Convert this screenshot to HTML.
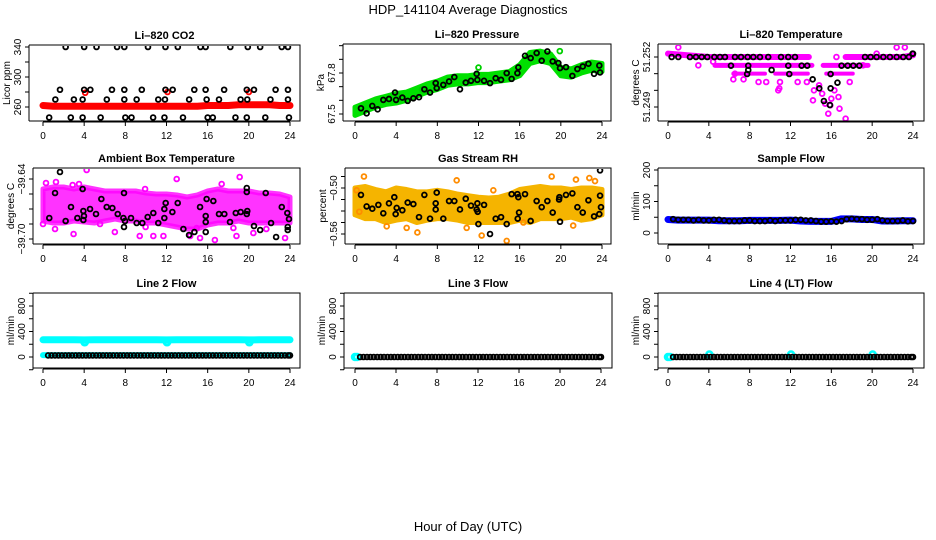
<!DOCTYPE html>
<html><head><meta charset="utf-8">
<style>
html,body{margin:0;padding:0;background:#fff;}
svg{display:block;font-family:"Liberation Sans",sans-serif;}
</style></head>
<body>
<svg id="chart" width="936" height="540" viewBox="0 0 936 540" xmlns="http://www.w3.org/2000/svg">
<text x="468" y="14" text-anchor="middle" font-size="13">HDP_141104  Average Diagnostics</text>
<text x="468" y="531" text-anchor="middle" font-size="13">Hour of Day (UTC)</text>
</svg>
<script>
// ---------- shared ----------
const hourTicks = [0,4,8,12,16,20,24];
const hours25 = [0,1,2,3,4,5,6,7,8,9,10,11,12,13,14,15,16,17,18,19,20,21,22,23,24];
const T48 = [0.5,1,1.5,2,2.5,3,3.5,4,4.5,5,5.5,6,6.5,7,7.5,8,8.5,9,9.5,10,10.5,11,11.5,12,12.5,13,13.5,14,14.5,15,15.5,16,16.5,17,17.5,18,18.5,19,19.5,20,20.5,21,21.5,22,22.5,23,23.5,24];
const T72 = [0.5,0.83,1.17,1.5,1.83,2.17,2.5,2.83,3.17,3.5,3.83,4.17,4.5,4.83,5.17,5.5,5.83,6.17,6.5,6.83,7.17,7.5,7.83,8.17,8.5,8.83,9.17,9.5,9.83,10.17,10.5,10.83,11.17,11.5,11.83,12.17,12.5,12.83,13.17,13.5,13.83,14.17,14.5,14.83,15.17,15.5,15.83,16.17,16.5,16.83,17.17,17.5,17.83,18.17,18.5,18.83,19.17,19.5,19.83,20.17,20.5,20.83,21.17,21.5,21.83,22.17,22.5,22.83,23.17,23.5,23.83,24];

// ---------- CO2 ----------
const co2Ticks = [260,280,300,320,340];
const co2Labels = ["260","","300","","340"];
const co2BlackH = [2.2,4.0,5.2,7.2,7.9,10.2,11.9,13.1,15.3,15.8,18.2,19.9,21.1,23.2,23.8,
 1.65,4.0,4.6,6.7,7.9,9.6,11.9,12.6,14.7,15.8,17.6,19.8,20.5,22.6,23.8,
 1.2,3.0,3.85,6.2,7.9,9.1,11.2,11.85,14.2,15.9,17.1,19.2,19.85,22.1,23.8,
 0.6,2.7,3.85,5.6,8.0,8.6,10.7,11.8,13.6,16.0,16.5,18.7,19.8,21.6,23.9];
const co2BlackV = [340,340,340,340,340,340,340,340,340,340,340,340,340,340,340,
 283,283,283,283,283,283,283,283,283,283,283,283,283,283,283,
 270,270,270,270,270,270,270,270,270,270,270,270,270,270,270,
 246,246,246,246,246,246,246,246,246,246,246,246,246,246,246];
const co2Red = [262,261,261,261,261,261,261,261,261,261,261,261,261,261,261,261,262,262,262,263,263,263,263,262,262];
const co2RedOutH = [4.1,12.1,20.0];
const co2RedOutV = [279,280,280];

// ---------- Pressure ----------
const presTicks = [67.5,67.6,67.7,67.8,67.9,68.0];
const presLabels = ["67.5","","","67.8","",""];
const presUpper = [67.55,67.58,67.61,67.63,67.65,67.66,67.69,67.72,67.74,67.77,67.78,67.78,67.79,67.79,67.80,67.81,67.86,67.95,67.96,67.94,67.84,67.83,67.86,67.88,67.87];
const presLower = [67.49,67.52,67.55,67.57,67.58,67.60,67.63,67.66,67.68,67.71,67.72,67.72,67.73,67.73,67.74,67.75,67.78,67.87,67.89,67.87,67.78,67.77,67.80,67.82,67.81];
const presOutH = [4.1,6.5,12.0,19.9];
const presOutV = [67.64,67.68,67.84,67.96];
const presBlackH = [0.58,1.13,1.68,2.2,2.75,3.3,3.89,3.99,4.6,5.12,5.67,6.22,6.74,7.29,7.84,7.94,8.58,9.14,9.65,10.2,10.76,11.27,11.82,11.89,12.54,13.12,13.67,14.19,14.74,15.22,15.78,15.87,16.52,17.07,17.65,18.14,18.69,19.21,19.76,19.92,20.5,21.12,21.61,22.13,22.68,23.23,23.74,23.81];
const presBlackV = [67.542,67.505,67.559,67.534,67.603,67.610,67.657,67.603,67.620,67.596,67.615,67.623,67.681,67.657,67.726,67.689,67.713,67.738,67.770,67.681,67.730,67.743,67.794,67.750,67.743,67.726,67.762,67.750,67.799,67.757,67.799,67.841,67.926,67.909,67.946,67.890,67.958,67.885,67.873,67.836,67.843,67.779,67.829,67.848,67.868,67.794,67.855,67.804];

// ---------- Li-820 Temperature ----------
const tempTicks = [51.249,51.250,51.251,51.252];
const tempLabels = ["51.249","","","51.252"];
const tempRow1H = [0,2,4,6,8,10,12,13.8,null,17.4,19,21,23,24];
const tempRow1V = [51.2522,51.2521,51.252,51.252,51.252,51.252,51.252,51.252,null,51.252,51.252,51.252,51.252,51.2521];
const tempRow2H = [4.6,7,9,11,14.1,null,15.2,17,19.6];
const tempRow2V = [51.2515,51.2515,51.2515,51.2515,51.2515,null,51.2515,51.2515,51.2515];
const tempRow3H = [6.4,9.5,null,10.5,13.7,null,15.5,18.1];
const tempRow3V = [51.251,51.251,null,51.251,51.251,null,51.251,51.251];
const tempMagH = [1.01,2.97,4.42,6.4,6.56,7.4,8.87,9.62,10.8,10.9,10.97,12.7,13.6,14.2,14.3,15.4,15.7,16.3,16.7,16.8,17.4,17.8,19.1,20.44,22.4,23.2,16.5,14.8,15.1,16.0,15.9];
const tempMagV = [51.25258,51.2515,51.25172,51.25066,51.251,51.25066,51.2505,51.2505,51.25,51.25012,51.2505,51.2505,51.2505,51.2494,51.25,51.2492,51.2486,51.25,51.2496,51.2489,51.2483,51.2505,51.2515,51.2522,51.25258,51.25258,51.252,51.2503,51.2498,51.2495,51.2491];
const tempBlackH = [0.36,1.01,2.15,2.74,3.3,3.85,4.54,5.09,5.58,6.56,7.15,7.8,8.36,9.01,9.82,11.07,11.78,12.44,19.3,19.85,20.44,21.09,21.74,22.4,23.04,23.6,24.0,
 6.17,7.86,11.78,13.09,13.64,17.0,17.6,18.15,18.74,
 7.86,7.75,10.15,11.88,14.17,14.82,15.93,15.93,15.27,15.86,16.6,23.96];
const tempBlackV = [51.252,51.252,51.252,51.252,51.252,51.252,51.252,51.252,51.252,51.252,51.252,51.252,51.252,51.252,51.252,51.252,51.252,51.252,51.252,51.252,51.252,51.252,51.252,51.252,51.252,51.252,51.2522,
 51.25148,51.25148,51.25148,51.25148,51.25148,51.25148,51.25148,51.25148,51.25148,
 51.25122,51.25098,51.25122,51.25098,51.25066,51.25012,51.25098,51.25012,51.24936,51.24912,51.25046,51.2522];

// ---------- Ambient Box Temperature ----------
const ambTicks = [-39.70,-39.685,-39.67,-39.655,-39.64];
const ambLabels = ["\u221239.70","","","","\u221239.64"];
const ambUpper = [-39.650,-39.648,-39.648,-39.650,-39.648,-39.650,-39.652,-39.652,-39.652,-39.652,-39.654,-39.655,-39.655,-39.656,-39.658,-39.656,-39.652,-39.650,-39.652,-39.652,-39.652,-39.654,-39.654,-39.655,-39.658];
const ambLower = [-39.682,-39.684,-39.684,-39.682,-39.683,-39.684,-39.682,-39.680,-39.682,-39.682,-39.684,-39.684,-39.686,-39.688,-39.690,-39.690,-39.686,-39.684,-39.684,-39.682,-39.684,-39.684,-39.684,-39.684,-39.684];
const ambMagH = [4.24,0.29,1.26,2.88,3.5,19.11,17.36,12.99,9.92,1.17,2.97,6.98,9.4,10.72,11.7,14.3,15.26,16.7,18.8,20.44,23.52,21.7,5.54,0,18.5,14.93,9.97];
const ambMagV = [-39.631,-39.644,-39.643,-39.646,-39.645,-39.638,-39.645,-39.640,-39.650,-39.690,-39.695,-39.693,-39.697,-39.697,-39.697,-39.697,-39.699,-39.701,-39.697,-39.694,-39.699,-39.690,-39.685,-39.685,-39.689,-39.689,-39.688];
const ambBlackH = [0.61,1.17,1.65,2.2,2.72,3.34,3.85,3.92,3.98,3.92,4.57,5.15,5.67,6.19,6.74,7.26,7.81,7.87,7.97,7.87,8.55,9.1,9.65,10.17,10.72,11.2,11.79,11.79,11.92,12.57,13.09,13.64,14.19,14.71,15.26,15.81,15.81,15.81,15.9,16.55,17.1,17.62,18.17,18.73,19.21,19.8,19.8,19.8,19.85,20.5,21.1,21.64,22.16,22.65,23.2,23.74,23.9,23.78,23.78];
const ambBlackV = [-39.679,-39.654,-39.633,-39.682,-39.668,-39.679,-39.650,-39.672,-39.677,-39.681,-39.670,-39.675,-39.660,-39.668,-39.669,-39.675,-39.679,-39.654,-39.682,-39.688,-39.679,-39.684,-39.684,-39.678,-39.674,-39.684,-39.679,-39.670,-39.664,-39.673,-39.664,-39.690,-39.696,-39.693,-39.668,-39.677,-39.683,-39.693,-39.660,-39.662,-39.675,-39.675,-39.683,-39.674,-39.673,-39.675,-39.649,-39.653,-39.672,-39.687,-39.691,-39.654,-39.684,-39.698,-39.668,-39.674,-39.680,-39.688,-39.691];

// ---------- Gas Stream RH ----------
const rhTicks = [-0.56,-0.545,-0.53,-0.515,-0.50,-0.485];
const rhLabels = ["\u22120.56","","","","\u22120.50",""];
const rhUpper = [-0.500,-0.498,-0.502,-0.505,-0.500,-0.502,-0.505,-0.505,-0.503,-0.505,-0.508,-0.510,-0.512,-0.513,-0.512,-0.508,-0.502,-0.500,-0.498,-0.500,-0.500,-0.502,-0.500,-0.500,-0.502];
const rhLower = [-0.535,-0.540,-0.540,-0.545,-0.542,-0.540,-0.545,-0.542,-0.540,-0.540,-0.542,-0.545,-0.545,-0.545,-0.545,-0.545,-0.542,-0.545,-0.540,-0.540,-0.540,-0.538,-0.542,-0.540,-0.535];
const rhOutH = [0.87,9.88,19.11,21.47,22.77,23.32,3.08,5.02,6.06,10.85,12.31,14.74,13.44,16.36,21.2,0.16,0.42];
const rhOutV = [-0.485,-0.490,-0.485,-0.489,-0.487,-0.491,-0.550,-0.552,-0.558,-0.552,-0.562,-0.569,-0.503,-0.545,-0.549,-0.503,-0.531];
const rhBlackH = [0.58,1.13,1.68,2.27,2.75,3.3,3.82,3.95,4.05,4.6,5.12,5.67,6.22,6.74,7.29,7.84,7.84,7.94,8.58,9.14,9.65,10.2,10.76,11.27,11.82,11.89,11.92,11.99,12.54,13.12,13.67,14.19,14.74,15.22,15.78,15.87,15.81,15.94,16.52,17.07,17.65,18.14,18.69,19.21,19.83,19.86,19.92,20.5,21.12,21.61,22.13,22.68,23.23,23.74,23.81,23.81,23.9];
const rhBlackV = [-0.509,-0.524,-0.527,-0.522,-0.533,-0.520,-0.512,-0.534,-0.526,-0.529,-0.519,-0.521,-0.538,-0.509,-0.540,-0.520,-0.528,-0.506,-0.540,-0.517,-0.517,-0.528,-0.514,-0.523,-0.528,-0.520,-0.531,-0.547,-0.522,-0.560,-0.540,-0.538,-0.547,-0.508,-0.508,-0.512,-0.540,-0.532,-0.508,-0.543,-0.517,-0.525,-0.517,-0.532,-0.515,-0.512,-0.544,-0.509,-0.507,-0.525,-0.532,-0.516,-0.537,-0.534,-0.477,-0.510,-0.525];

// ---------- Sample Flow ----------
const sfTicks = [0,50,100,150,200];
const sfLabels = ["0","","100","","200"];
const sfBlue = [43,41,41,41,41,39,39,39,40,40,40,40,41,38,37,37,37,45,45,43,43,38,38,39,39];
const sfBlack = [44,42,42,42,40,42,40,40,42,42,40,38,38,38,40,40,38,38,38,40,38,40,40,40,42,42,40,40,38,36,36,37,36,38,44,45,44,44,42,42,44,40,38,38,38,40,37,38];

// ---------- Line flows ----------
const flowTicks = [-200,0,200,400,600,800,1000];
const flowLabels = ["","0","","400","","800",""];
const l2CyanHigh = [270,270,270,270,268,270,270,270,270,270,270,270,268,270,270,270,270,270,270,270,268,270,270,270,270];
const l2DipH = [4.05,12.05,20.05];
const l2DipV = [235,235,235];
const l2CyanLow = [30,30,30,30,30,30,30,30,30,30,30,30,30,30,30,30,30,30,30,30,30,30,30,30,30];
const l2Black = [25,25,25,25,25,25,25,25,25,25,25,25,25,25,25,25,25,25,25,25,25,25,25,25,25,25,25,25,25,25,25,25,25,25,25,25,25,25,25,25,25,25,25,25,25,25,25,25,25,25,25,25,25,25,25,25,25,25,25,25,25,25,25,25,25,25,25,25,25,25,25,25];
const l3CyanH = [0,0.2];
const l3CyanV = [0,0];
const l3Black = [0,0,0,0,0,0,0,0,0,0,0,0,0,0,0,0,0,0,0,0,0,0,0,0,0,0,0,0,0,0,0,0,0,0,0,0,0,0,0,0,0,0,0,0,0,0,0,0,0,0,0,0,0,0,0,0,0,0,0,0,0,0,0,0,0,0,0,0,0,0,0,0];
const l4CyanH = [0,0.2,4.05,12.05,20.05];
const l4CyanV = [0,0,40,40,40];
const l4Black = [0,0,0,0,0,0,0,0,0,0,0,0,0,0,0,0,0,0,0,0,0,0,0,0,0,0,0,0,0,0,0,0,0,0,0,0,0,0,0,0,0,0,0,0,0,0,0,0,0,0,0,0,0,0,0,0,0,0,0,0,0,0,0,0,0,0,0,0,0,0,0,0];

const NS = "http://www.w3.org/2000/svg";
const svg = document.getElementById('chart');
function mk(tag, attrs, parent){
  const e = document.createElementNS(NS, tag);
  for (const k in attrs) e.setAttribute(k, attrs[k]);
  (parent||svg).appendChild(e);
  return e;
}

function makePanel(c){
  const g = mk('g', {});
  
  
  const sx = h => c.x0 + h*(c.x24 - c.x0)/24;
  const sy = v => c.yp0 + (v - c.yv0)*(c.yp1 - c.yp0)/(c.yv1 - c.yv0);
  const cid = 'clip-' + c.name;
  const cp = mk('clipPath', {id: cid}, g);
  mk('rect', {x: c.left+1, y: c.top+1, width: c.right-c.left-2, height: c.bottom-c.top-1}, cp);
  const plot = mk('g', {'clip-path': 'url(#' + cid + ')'}, g);
  
  
  const box = mk('path', {d: `M${c.left},${c.top} H${c.right} V${c.bottom} H${c.left}`, fill: 'none', stroke: '#000', 'stroke-width': 1}, g);
  
  
  const yts = c.yTicks.map(sy);
  const yax = mk('line', {x1: c.left, x2: c.left, y1: Math.min(...yts, c.top), y2: Math.max(...yts.filter(y => y <= c.bottom + 4), c.bottom), stroke: '#000'}, g);
  
  
  c.yTicks.forEach((t, i) => {
    const y = sy(t);
    mk('line', {x1: c.left - 4, x2: c.left, y1: y, y2: y, stroke: '#000'}, g);
    if (c.yLabels[i]) {
      const tx = mk('text', {x: 0, y: 0, 'font-size': 10, 'text-anchor': 'middle', transform: `translate(${c.left - 8},${y}) rotate(-90)`}, g);
      
      
      tx.textContent = c.yLabels[i];
    }
  });
  const yl = mk('text', {x: 0, y: 0, 'font-size': 10, 'text-anchor': 'middle', transform: `translate(${c.left - 19},${(c.top + c.bottom)/2}) rotate(-90)`}, g);
  
  
  yl.textContent = c.ylab;
  const xax = mk('line', {x1: sx(0), x2: sx(24), y1: c.bottom + 1, y2: c.bottom + 1, stroke: '#000'}, g);
  
  
  hourTicks.forEach(h => {
    mk('line', {x1: sx(h), x2: sx(h), y1: c.bottom + 1, y2: c.bottom + 5, stroke: '#000'}, g);
    const tx = mk('text', {x: sx(h), y: c.bottom + 18, 'font-size': 10, 'text-anchor': 'middle'}, g);
    
    
    tx.textContent = String(h);
  });
  const ti = mk('text', {x: (c.left + c.right)/2, y: c.top - 6, 'font-size': 11, 'font-weight': 'bold', 'text-anchor': 'middle'}, g);
  
  
  ti.textContent = c.title;
  return {plot, sx, sy};
}

function points(p, H, V, color, name, r, sw){
  H.forEach((h, i) => {
    const el = mk('circle', {cx: p.sx(h), cy: p.sy(V[i]), r: r||2.4, fill: 'none', stroke: color, 'stroke-width': sw||1.8}, p.plot);
    
    
  });
}
function band(p, H, U, L, color, name, op){
  let d = 'M' + H.map((h, i) => p.sx(h) + ',' + p.sy(U[i])).join(' L');
  d += ' L' + H.slice().reverse().map((h, j) => { const i = H.length - 1 - j; return p.sx(h) + ',' + p.sy(L[i]); }).join(' L') + ' Z';
  const el = mk('path', {d, fill: color, 'fill-opacity': op||1, stroke: color, 'stroke-opacity': op||1, 'stroke-width': 5, 'stroke-linejoin': 'round'}, p.plot);
  
  
}
function thick(p, H, V, color, name, w){
  let d = '', pen = false;
  H.forEach((h, i) => {
    if (h === null || V[i] === null) { pen = false; return; }
    d += (pen ? ' L' : ' M') + p.sx(h) + ',' + p.sy(V[i]);
    pen = true;
  });
  const el = mk('path', {d, fill: 'none', stroke: color, 'stroke-width': w||6, 'stroke-linecap': 'round', 'stroke-linejoin': 'round'}, p.plot);
  
  
}

// Row 1
let p = makePanel({name: 'co2-panel', title: 'Li\u2013820 CO2', ylab: 'Licor ppm', left: 29, right: 300, top: 45, bottom: 121, x0: 43, x24: 290, yv0: 260, yp0: 107, yv1: 340, yp1: 47, yTicks: co2Ticks, yLabels: co2Labels});
thick(p, hours25, co2Red, '#f00', 'co2-red-series', 7);
points(p, co2RedOutH, co2RedOutV, '#f00', 'co2-red-point');
points(p, co2BlackH, co2BlackV, '#000', 'co2-black-point');

p = makePanel({name: 'pressure-panel', title: 'Li\u2013820 Pressure', ylab: 'kPa', left: 343, right: 611, top: 44, bottom: 121, x0: 355, x24: 602, yv0: 67.5, yp0: 114, yv1: 67.8, yp1: 73, yTicks: presTicks, yLabels: presLabels});
band(p, hours25, presUpper, presLower, '#00e000', 'pressure-green-band');
points(p, presOutH, presOutV, '#00d000', 'pressure-green-point');
points(p, presBlackH, presBlackV, '#000', 'pressure-black-point');

p = makePanel({name: 'temperature-panel', title: 'Li\u2013820 Temperature', ylab: 'degrees C', left: 658, right: 924, top: 44, bottom: 121, x0: 668, x24: 913, yv0: 51.249, yp0: 107, yv1: 51.252, yp1: 57, yTicks: tempTicks, yLabels: tempLabels});
thick(p, tempRow1H, tempRow1V, '#ff00ff', 'temperature-magenta-row', 6);
thick(p, tempRow2H, tempRow2V, '#ff00ff', 'temperature-magenta-row', 5);
thick(p, tempRow3H, tempRow3V, '#ff00ff', 'temperature-magenta-row', 4);
points(p, tempMagH, tempMagV, '#ff00ff', 'temperature-magenta-point');
points(p, tempBlackH, tempBlackV, '#000', 'temperature-black-point');

// Row 2
p = makePanel({name: 'ambient-panel', title: 'Ambient Box Temperature', ylab: 'degrees C', left: 33, right: 300, top: 168, bottom: 244, x0: 43, x24: 290, yv0: -39.70, yp0: 239, yv1: -39.64, yp1: 179, yTicks: ambTicks, yLabels: ambLabels});
band(p, hours25, ambUpper, ambLower, '#ff00ff', 'ambient-magenta-band', 0.8);
points(p, ambMagH, ambMagV, '#ff00ff', 'ambient-magenta-point');
points(p, ambBlackH, ambBlackV, '#000', 'ambient-black-point');

p = makePanel({name: 'rh-panel', title: 'Gas Stream RH', ylab: 'percent', left: 345, right: 611, top: 168, bottom: 244, x0: 355, x24: 602, yv0: -0.56, yp0: 234, yv1: -0.50, yp1: 188, yTicks: rhTicks, yLabels: rhLabels});
band(p, hours25, rhUpper, rhLower, '#f5b400', 'rh-orange-band');
points(p, rhOutH, rhOutV, '#ff8c00', 'rh-orange-point');
points(p, rhBlackH, rhBlackV, '#000', 'rh-black-point');

p = makePanel({name: 'sample-flow-panel', title: 'Sample Flow', ylab: 'ml/min', left: 658, right: 924, top: 168, bottom: 244, x0: 668, x24: 913, yv0: 0, yp0: 233, yv1: 200, yp1: 170, yTicks: sfTicks, yLabels: sfLabels});
thick(p, hours25, sfBlue, '#0000ff', 'sample-flow-blue-series', 7);
points(p, T48, sfBlack, '#000', 'sample-flow-black-point');

// Row 3
p = makePanel({name: 'line2-panel', title: 'Line 2 Flow', ylab: 'ml/min', left: 33, right: 300, top: 293, bottom: 368, x0: 43, x24: 290, yv0: 0, yp0: 357, yv1: 800, yp1: 306, yTicks: flowTicks, yLabels: flowLabels});
thick(p, hours25, l2CyanHigh, '#00ffff', 'line2-cyan-high', 7);
points(p, l2DipH, l2DipV, '#00ffff', 'line2-cyan-dip', 3, 3);
thick(p, hours25, l2CyanLow, '#00ffff', 'line2-cyan-low', 6);
points(p, T72, l2Black, '#000', 'line2-black-point');

p = makePanel({name: 'line3-panel', title: 'Line 3 Flow', ylab: 'ml/min', left: 344, right: 612, top: 293, bottom: 368, x0: 355, x24: 601, yv0: 0, yp0: 357, yv1: 800, yp1: 306, yTicks: flowTicks, yLabels: flowLabels});
points(p, l3CyanH, l3CyanV, '#00ffff', 'line3-cyan-point', 3, 2.5);
points(p, T72, l3Black, '#000', 'line3-black-point');

p = makePanel({name: 'line4-panel', title: 'Line 4 (LT) Flow', ylab: 'ml/min', left: 658, right: 924, top: 293, bottom: 368, x0: 668, x24: 913, yv0: 0, yp0: 357, yv1: 800, yp1: 306, yTicks: flowTicks, yLabels: flowLabels});
points(p, l4CyanH, l4CyanV, '#00ffff', 'line4-cyan-point', 3, 2.5);
points(p, T72, l4Black, '#000', 'line4-black-point');
</script>
</body></html>
